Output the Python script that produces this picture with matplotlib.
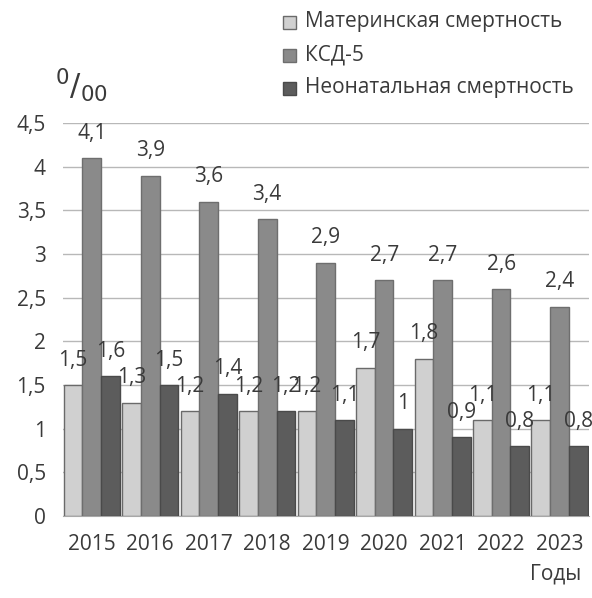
import numpy as np
import matplotlib
matplotlib.use('Agg')
import matplotlib.pyplot as plt
from matplotlib.patches import Rectangle

plt.rcParams['font.family'] = ['Open Sans', 'DejaVu Sans']

years = ['2015', '2016', '2017', '2018', '2019', '2020', '2021', '2022', '2023']
maternal = [1.5, 1.3, 1.2, 1.2, 1.2, 1.7, 1.8, 1.1, 1.1]
ksd5 = [4.1, 3.9, 3.6, 3.4, 2.9, 2.7, 2.7, 2.6, 2.4]
neonatal = [1.6, 1.5, 1.4, 1.2, 1.1, 1.0, 0.9, 0.8, 0.8]
series_names = ['Материнская смертность', 'КСД-5', 'Неонатальная смертность']
yticks = [0, 0.5, 1, 1.5, 2, 2.5, 3, 3.5, 4, 4.5]
ytick_labels = ['0', '0,5', '1', '1,5', '2', '2,5', '3', '3,5', '4', '4,5']

colors = ['#d0d0d0', '#8a8a8a', '#5c5c5c']
edges = ['#6a6a6a', '#6e6e6e', '#4a4a4a']
txt = '#3a3a3a'

fig = plt.figure(figsize=(5.92, 5.98), dpi=100)
ax = fig.add_axes([0.1056, 0.137, 0.889, 0.657])

x = np.arange(len(years))
w = 0.32
for i, vals in enumerate([maternal, ksd5, neonatal]):
    pos = x + (i - 1) * w
    ax.bar(pos, vals, width=w, color=colors[i], edgecolor=edges[i], linewidth=1, zorder=3)
    for p, v in zip(pos, vals):
        lab = ('%g' % v).replace('.', ',')
        ax.annotate(lab, (p, v), xytext=(0, 18), textcoords='offset points',
                    ha='center', va='center', fontsize=15, color=txt, zorder=4)

ax.set_xlim(-0.5, len(years) - 0.5)
ax.set_ylim(0, 4.5)
ax.set_yticks(yticks)
ax.set_yticklabels(ytick_labels)
ax.set_xticks(x)
ax.set_xticklabels(years)
ax.tick_params(axis='both', length=0, labelsize=15, labelcolor=txt)
ax.tick_params(axis='y', pad=12)
ax.tick_params(axis='x', pad=13)
ax.yaxis.grid(True, color='#b8b8b8', linewidth=1, zorder=0)
ax.set_axisbelow(True)
for s in ['top', 'right', 'left']:
    ax.spines[s].set_visible(False)
ax.spines['bottom'].set_color('#a8a8a8')

# legend
rows = [22, 55, 88]
for i, name in enumerate(series_names):
    y = 1 - rows[i] / 598
    fig.patches.append(Rectangle((283 / 592, y - 6.5 / 598), 13 / 592, 13 / 598,
                                 transform=fig.transFigure, facecolor=colors[i],
                                 edgecolor=edges[i], linewidth=1))
    fig.text(305 / 592, y, name, fontsize=15, color=txt, va='center', ha='left')

fig.text(82 / 592, 1 - 85 / 598, r'$^{0}/_{00}$', fontsize=22, color=txt, ha='center', va='center')
fig.text(581 / 592, 1 - 574 / 598, 'Годы', fontsize=15, color=txt, ha='right', va='center')

fig.savefig('out.png', dpi=100, facecolor='white')
